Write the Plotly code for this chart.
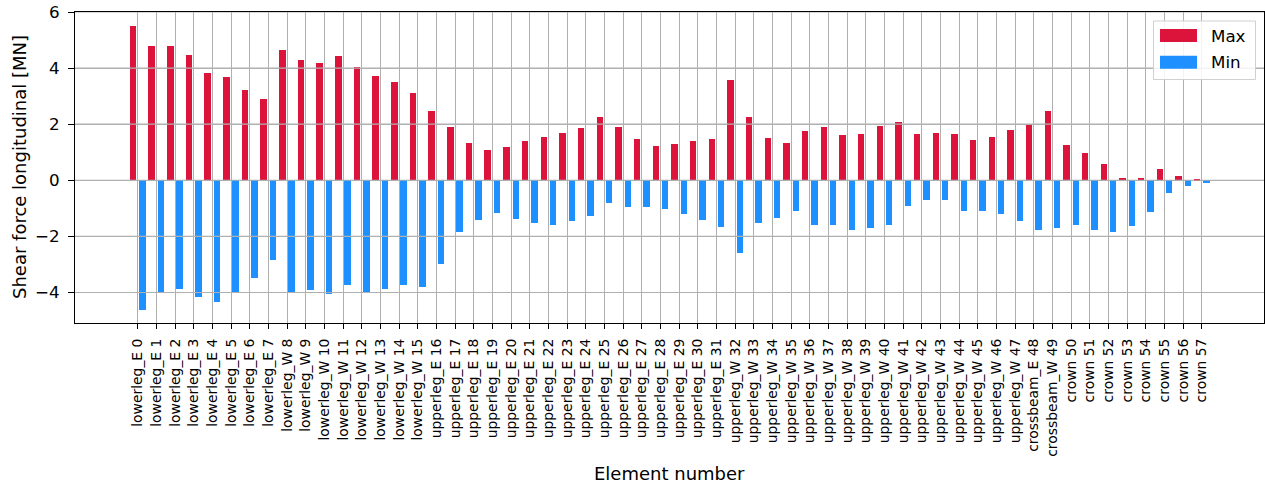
import plotly.graph_objects as go

# Element labels along the x axis
elements = (
    [f"lowerleg_E {i}" for i in range(0, 8)]
    + [f"lowerleg_W {i}" for i in range(8, 16)]
    + [f"upperleg_E {i}" for i in range(16, 32)]
    + [f"upperleg_W {i}" for i in range(32, 48)]
    + ["crossbeam_E 48", "crossbeam_W 49"]
    + [f"crown {i}" for i in range(50, 58)]
)

# Longitudinal shear force envelope per element [MN]
shear_max = [
    5.50, 4.79, 4.79, 4.47, 3.82, 3.68, 3.22, 2.90,
    4.64, 4.29, 4.18, 4.43, 4.03, 3.72, 3.50, 3.11,
    2.47, 1.90, 1.33, 1.08, 1.19, 1.40, 1.54, 1.69,
    1.86, 2.26, 1.90, 1.47, 1.22, 1.29, 1.40, 1.47,
    3.57, 2.26, 1.51, 1.33, 1.76, 1.90, 1.62, 1.65,
    1.94, 2.08, 1.65, 1.69, 1.65, 1.44, 1.54, 1.79,
    1.97, 2.47,
    1.26, 0.97, 0.58, 0.08, 0.08, 0.40, 0.15, 0.05,
]
shear_min = [
    -4.62, -4.03, -3.86, -4.18, -4.33, -3.97, -3.50, -2.83,
    -4.03, -3.93, -4.07, -3.75, -4.03, -3.86, -3.72, -3.79,
    -2.97, -1.83, -1.41, -1.15, -1.37, -1.54, -1.58, -1.44,
    -1.26, -0.80, -0.94, -0.94, -1.01, -1.19, -1.40, -1.65,
    -2.61, -1.51, -1.33, -1.08, -1.58, -1.58, -1.76, -1.72,
    -1.58, -0.90, -0.69, -0.72, -1.08, -1.08, -1.19, -1.44,
    -1.76, -1.69,
    -1.58, -1.76, -1.83, -1.62, -1.12, -0.44, -0.19, -0.08,
]

y_ticks = [-4, -2, 0, 2, 4, 6]

MAX_COLOR = "crimson"
MIN_COLOR = "dodgerblue"
GRID = "#b0b0b0"
FONT = "DejaVu Sans"

idx = list(range(len(elements)))
bar_w = 0.35

fig = go.Figure()
fig.add_trace(go.Bar(
    x=idx, y=shear_max, name="Max", marker_color=MAX_COLOR,
    marker_line_width=0, width=bar_w, offset=-0.425, showlegend=False,
))
fig.add_trace(go.Bar(
    x=idx, y=shear_min, name="Min", marker_color=MIN_COLOR,
    marker_line_width=0, width=bar_w, offset=0.075, showlegend=False,
))

# horizontal grid drawn over the bars
shapes = []
for v in y_ticks:
    shapes.append(dict(type="line", xref="paper", x0=0, x1=1, yref="y", y0=v, y1=v,
                       line=dict(color=GRID, width=1.1), layer="above"))

# legend box (pixel geometry converted to paper fractions)
PX_L, PX_R, PX_T, PX_B = 75, 1264, 12, 323


def px_x(px):
    return (px - PX_L) / (PX_R - PX_L)


def px_y(py):
    return (PX_B - py) / (PX_B - PX_T)


shapes.append(dict(type="rect", xref="paper", yref="paper",
                   x0=px_x(1153.5), x1=px_x(1255.5), y0=px_y(79.5), y1=px_y(21),
                   line=dict(color="#d0d0d0", width=1), fillcolor="rgba(255,255,255,0.85)",
                   layer="above"))
legend_items = [("Max", MAX_COLOR, 35.5), ("Min", MIN_COLOR, 62.2)]
annotations = []
for label, color, cy in legend_items:
    shapes.append(dict(type="rect", xref="paper", yref="paper",
                       x0=px_x(1160), x1=px_x(1197), y0=px_y(cy + 6.5), y1=px_y(cy - 6.5),
                       line=dict(width=0), fillcolor=color, layer="above"))
    annotations.append(dict(text=label, xref="paper", yref="paper", x=px_x(1209), y=px_y(cy),
                            xanchor="left", yanchor="middle", showarrow=False,
                            font=dict(family=FONT, size=16.7, color="black")))

# axis titles
annotations.append(dict(text="Shear force longitudinal [MN]", xref="paper", yref="paper",
                        x=0, y=0.5, xshift=-55.5, textangle=-90, xanchor="center",
                        yanchor="middle", showarrow=False,
                        font=dict(family=FONT, size=18, color="black")))
annotations.append(dict(text="Element number", xref="paper", yref="paper",
                        x=0.5, y=0, yshift=-150, xanchor="center", yanchor="middle",
                        showarrow=False, font=dict(family=FONT, size=18, color="black")))

fig.update_layout(
    width=1265, height=488,
    margin=dict(l=PX_L, r=1265 - PX_R, t=PX_T, b=488 - PX_B),
    plot_bgcolor="white", paper_bgcolor="white",
    barmode="overlay", bargap=0,
    shapes=shapes, annotations=annotations,
    font=dict(family=FONT, color="black"),
)
fig.update_xaxes(
    range=[-3.36, 60.33], tickmode="array", tickvals=idx, ticktext=elements,
    tickangle=-90, tickfont=dict(family=FONT, size=13.9, color="black"),
    ticks="outside", ticklen=5, tickwidth=1.1, tickcolor="black",
    showgrid=True, gridcolor=GRID, gridwidth=1.1, zeroline=False,
    showline=True, linecolor="black", linewidth=1.1, mirror=True,
    ticklabelstandoff=4,
)
fig.update_yaxes(
    range=[-5.09, 6.0], tickmode="array", tickvals=y_ticks,
    ticktext=["\u22124", "\u22122", "0", "2", "4", "6"],
    tickfont=dict(family=FONT, size=16.7, color="black"),
    ticks="outside", ticklen=6, tickwidth=1.1, tickcolor="black",
    showgrid=True, gridcolor=GRID, gridwidth=1.1, zeroline=False,
    showline=True, linecolor="black", linewidth=1.1, mirror=True,
    ticklabelstandoff=5,
)

fig.write_html("out.html")
